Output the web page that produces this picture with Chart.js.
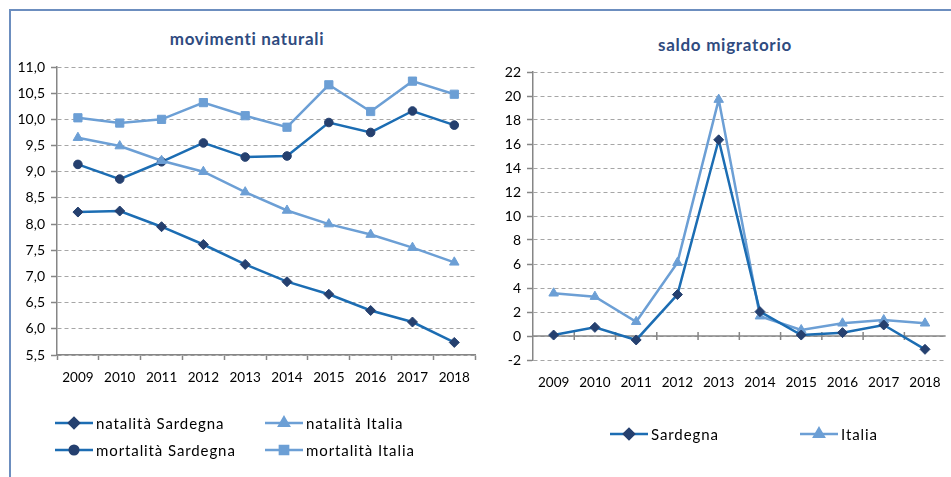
<!DOCTYPE html>
<html>
<head>
<meta charset="utf-8">
<script src="https://cdn.jsdelivr.net/npm/chart.js@4"></script>
<style>
  html, body { margin: 0; padding: 0; background: #fff; overflow: hidden; }
  body { width: 951px; height: 477px; position: relative; font-family: Lato, sans-serif; }
  .frameTop { position: absolute; left: 9px; top: 9px; width: 950px; height: 2px; background: #6c8ebf; }
  .frameLeft { position: absolute; left: 9px; top: 9px; width: 2px; height: 470px; background: #6c8ebf; }
  .title { position: absolute; font-weight: bold; font-size: 17px; letter-spacing: 0.7px; color: #2f4b7f; white-space: nowrap; transform: translate(-50%, -50%); }
  #box1 { position: absolute; left: 12px; top: 12px; width: 470px; height: 465px; }
  #box2 { position: absolute; left: 484px; top: 12px; width: 472px; height: 465px; }
</style>
</head>
<body>
<div class="frameTop"></div>
<div class="frameLeft"></div>
<div class="title" style="left:247px; top:38px;">movimenti naturali</div>
<div class="title" style="left:725px; top:44px;">saldo migratorio</div>
<div id="box1"><canvas id="chart1"></canvas></div>
<div id="box2"><canvas id="chart2"></canvas></div>
<script>
const years = ['2009', '2010', '2011', '2012', '2013', '2014', '2015', '2016', '2017', '2018'];

// movimenti naturali (per mille)
const natalitaSardegna = [8.23, 8.25, 7.95, 7.61, 7.23, 6.90, 6.66, 6.35, 6.13, 5.74];
const natalitaItalia = [9.65, 9.49, 9.21, 9.00, 8.61, 8.26, 8.00, 7.80, 7.55, 7.27];
const mortalitaSardegna = [9.14, 8.86, 9.19, 9.55, 9.28, 9.30, 9.94, 9.75, 10.16, 9.89];
const mortalitaItalia = [10.03, 9.93, 10.00, 10.32, 10.07, 9.85, 10.66, 10.15, 10.73, 10.48];

// saldo migratorio (per mille)
const migratorioSardegna = [0.08, 0.72, -0.33, 3.45, 16.35, 2.03, 0.08, 0.28, 0.92, -1.11];
const migratorioItalia = [3.56, 3.28, 1.19, 6.11, 19.7, 1.65, 0.5, 1.06, 1.33, 1.06];

const lineSard = '#1c6db3';
const markSard = '#25406f';
const lineIta = '#6c9fd5';
const gridGray = '#a6a6a6';
const axisGray = '#868686';
const fontFam = 'Lato, sans-serif';

Chart.defaults.font.family = fontFam;
Chart.defaults.color = '#000';
Chart.defaults.animation = false;

function serie(label, data, line, mark, style, r) {
  return {
    label: label, data: data,
    borderColor: line, backgroundColor: mark,
    pointBackgroundColor: mark, pointBorderColor: mark,
    pointStyle: style, pointRadius: r, pointHoverRadius: r, pointBorderWidth: 1,
    borderWidth: 2.5, tension: 0
  };
}

// legenda disegnata a mano: linea + marker + testo
const lineLegend = {
  id: 'lineLegend',
  afterDraw(chart, args, opts) {
    const ctx = chart.ctx;
    ctx.save();
    chart.data.datasets.forEach((ds, i) => {
      const p = opts.pos[i];
      ctx.strokeStyle = ds.borderColor;
      ctx.lineWidth = 2.5;
      ctx.beginPath();
      ctx.moveTo(p.x, p.y);
      ctx.lineTo(p.x + 38, p.y);
      ctx.stroke();
      ctx.fillStyle = ds.pointBackgroundColor;
      ctx.strokeStyle = ds.pointBorderColor;
      Chart.helpers.drawPoint(ctx, { pointStyle: ds.pointStyle, radius: ds.pointRadius, rotation: 0, borderWidth: 1 }, p.x + 19, p.y);
      ctx.fillStyle = '#000';
      ctx.font = '15px ' + fontFam;
      ctx.letterSpacing = '0.9px';
      ctx.textBaseline = 'middle';
      ctx.fillText(ds.label, p.x + 41, p.y + 1);
      ctx.letterSpacing = '0px';
    });
    ctx.restore();
  }
};

// linea dello zero con tacche per il grafico del saldo
const zeroAxis = {
  id: 'zeroAxis',
  beforeDatasetsDraw(chart, args, opts) {
    if (!opts.on) return;
    const ctx = chart.ctx;
    const x = chart.scales.x;
    const y0 = chart.scales.y.getPixelForValue(0);
    ctx.save();
    ctx.strokeStyle = axisGray;
    ctx.lineWidth = 1.5;
    ctx.beginPath();
    ctx.moveTo(chart.chartArea.left, y0);
    ctx.lineTo(chart.chartArea.right, y0);
    for (let i = 1; i < years.length; i++) {
      const xb = (x.getPixelForValue(i - 1) + x.getPixelForValue(i)) / 2;
      ctx.moveTo(xb, y0 - 4);
      ctx.lineTo(xb, y0 + 4);
    }
    ctx.stroke();
    ctx.restore();
  }
};

function baseOptions(cfg) {
  return {
    responsive: true,
    maintainAspectRatio: false,
    layout: { padding: { top: cfg.top, right: 2, left: 0, bottom: 0 } },
    plugins: {
      legend: { display: false },
      tooltip: { enabled: false },
      lineLegend: { pos: cfg.legend },
      zeroAxis: { on: cfg.zero }
    },
    scales: {
      x: {
        type: 'category',
        offset: true,
        afterFit(s) { s.height = cfg.xh; },
        grid: { display: true, offset: true, drawOnChartArea: false, drawTicks: !cfg.zero, tickLength: 5, tickColor: axisGray, tickWidth: 1.5 },
        border: { display: !cfg.zero, color: axisGray, width: 1.5 },
        ticks: { font: { size: 13.5 }, padding: cfg.xpad, maxRotation: 0, autoSkip: false }
      },
      y: {
        min: cfg.min, max: cfg.max,
        afterFit(s) { s.width = cfg.yw; },
        grid: { color: gridGray, lineWidth: 1, tickLength: 6, tickColor: axisGray, tickWidth: 1.5 },
        border: { color: axisGray, width: 1.5, dash: [4, 3] },
        ticks: { stepSize: cfg.step, font: { size: 14 }, padding: 6, callback: cfg.fmt }
      }
    }
  };
}

new Chart(document.getElementById('chart1'), {
  type: 'line',
  data: {
    labels: years,
    datasets: [
      serie('natalità Sardegna', natalitaSardegna, lineSard, markSard, 'rectRot', 5),
      serie('natalità Italia', natalitaItalia, lineIta, lineIta, 'triangle', 5.5),
      serie('mortalità Sardegna', mortalitaSardegna, lineSard, markSard, 'circle', 4.3),
      serie('mortalità Italia', mortalitaItalia, lineIta, lineIta, 'rect', 5.8)
    ]
  },
  options: baseOptions({
    top: 55, xh: 122, xpad: 10, yw: 45, min: 5.5, max: 11, step: 0.5, zero: false,
    fmt: v => v.toFixed(1).replace('.', ','),
    legend: [{ x: 43, y: 411 }, { x: 253, y: 411 }, { x: 43, y: 438 }, { x: 253, y: 438 }]
  }),
  plugins: [lineLegend, zeroAxis]
});

new Chart(document.getElementById('chart2'), {
  type: 'line',
  data: {
    labels: years,
    datasets: [
      serie('Sardegna', migratorioSardegna, lineSard, markSard, 'rectRot', 5),
      serie('Italia', migratorioItalia, lineIta, lineIta, 'triangle', 5.5)
    ]
  },
  options: baseOptions({
    top: 60, xh: 117, xpad: 15, yw: 49, min: -2, max: 22, step: 2, zero: true,
    fmt: v => String(v),
    legend: [{ x: 126, y: 422 }, { x: 316, y: 422 }]
  }),
  plugins: [lineLegend, zeroAxis]
});
</script>
</body>
</html>
